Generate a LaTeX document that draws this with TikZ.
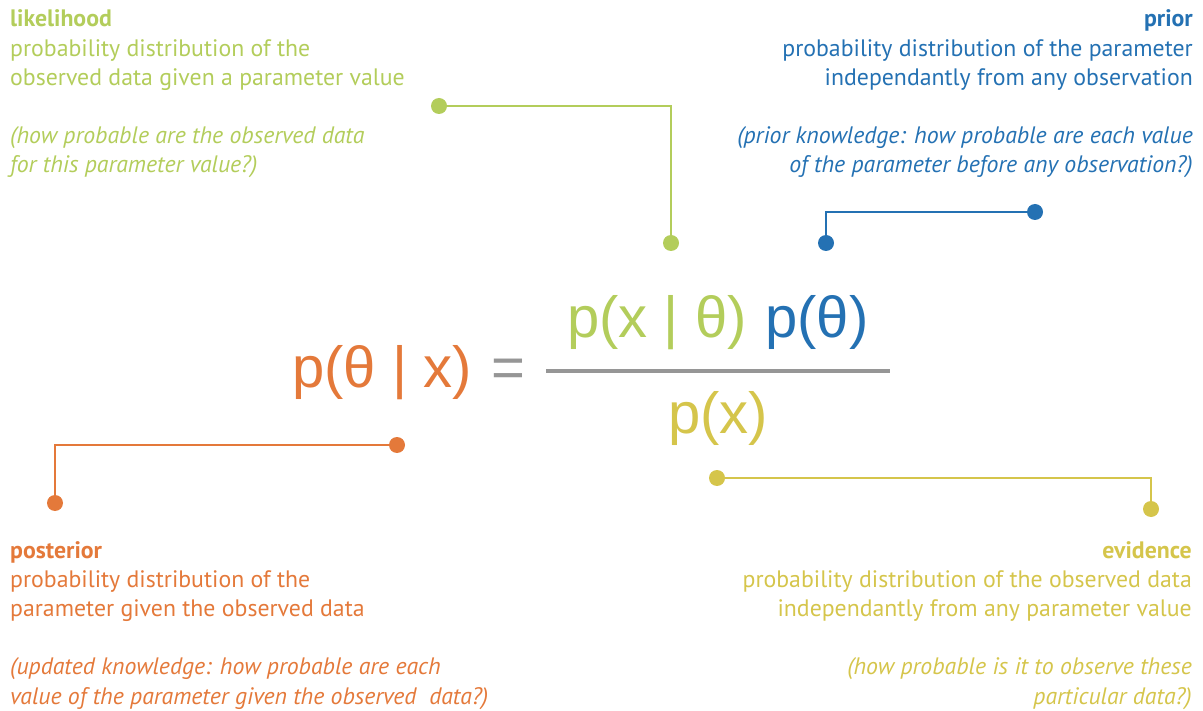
\documentclass[tikz,border=0pt]{standalone}
\usepackage{fontspec}
\setmainfont{PT Sans}
\newfontfamily\formulafont{Liberation Sans}
\definecolor{likec}{RGB}{179,205,91}
\definecolor{priorc}{RGB}{36,113,179}
\definecolor{postc}{RGB}{228,121,58}
\definecolor{evidc}{RGB}{213,197,75}
\definecolor{barc}{RGB}{150,150,150}
\begin{document}
\begin{tikzpicture}[x=1pt,y=-1pt,
  txt/.style={inner sep=0pt, font=\fontsize{23.8}{29.2}\selectfont},
  lefttxt/.style={txt, align=left, anchor=base west},
  righttxt/.style={txt, align=right, anchor=base east},
  frm/.style={inner sep=0pt, anchor=base west, font=\formulafont\fontsize{58}{60}\selectfont},
  dot/.style={circle, fill, inner sep=0pt, minimum size=16pt},
  link/.style={line width=2pt}]
\useasboundingbox (0,0) rectangle (1203,711);

% text blocks (base anchor = baseline of last line)
\node[lefttxt, text=likec] (liketxt) at (10,173) {\textbf{likelihood}\\probability distribution of the\\observed data given a parameter value\\[29.2pt]\textit{(how probable are the observed data}\\\textit{for this parameter value?)}};
\node[righttxt, text=priorc] (priortxt) at (1193,173) {\textbf{prior}\\probability distribution of the parameter\\independantly from any observation\\[29.2pt]\textit{(prior knowledge: how probable are each value}\\\textit{of the parameter before any observation?)}};
\node[lefttxt, text=postc] (posttxt) at (10,704) {\textbf{posterior}\\probability distribution of the\\parameter given the observed data\\[29.2pt]\textit{(updated knowledge: how probable are each}\\\textit{value of the parameter given the observed\ \ data?)}};
\node[righttxt, text=evidc] (evidtxt) at (1192,704) {\textbf{evidence}\\probability distribution of the observed data\\independantly from any parameter value\\[29.2pt]\textit{(how probable is it to observe these}\\\textit{particular data?)}};

% formula
\node[frm, text=postc] (post) at (292,388) {p(θ | x)};
\node[frm, text=barc, anchor=base] (eq) at (508,388) {=};
\node[frm, text=likec] (like) at (567,338) {p(x | θ)};
\node[frm, text=priorc] (prior) at (765,338) {p(θ)};
\node[frm, text=evidc] (evid) at (668,433) {p(x)};
\coordinate (barL) at (546,371);
\coordinate (barR) at (890,371);
\draw[barc, line width=4pt] (barL) -- (barR);

% likelihood connector
\node[dot, fill=likec] (l1) at (439,106) {};
\node[dot, fill=likec] (l2) at (671,243) {};
\draw[link, likec] (l1) -| (l2);
% prior connector
\node[dot, fill=priorc] (p1) at (1035,212) {};
\node[dot, fill=priorc] (p2) at (826,243) {};
\draw[link, priorc] (p2) |- (p1);
% posterior connector
\node[dot, fill=postc] (o1) at (397,445) {};
\node[dot, fill=postc] (o2) at (55,503) {};
\draw[link, postc] (o1) -| (o2);
% evidence connector
\node[dot, fill=evidc] (e1) at (717,478) {};
\node[dot, fill=evidc] (e2) at (1151,509) {};
\draw[link, evidc] (e1) -| (e2);
\end{tikzpicture}
\end{document}
